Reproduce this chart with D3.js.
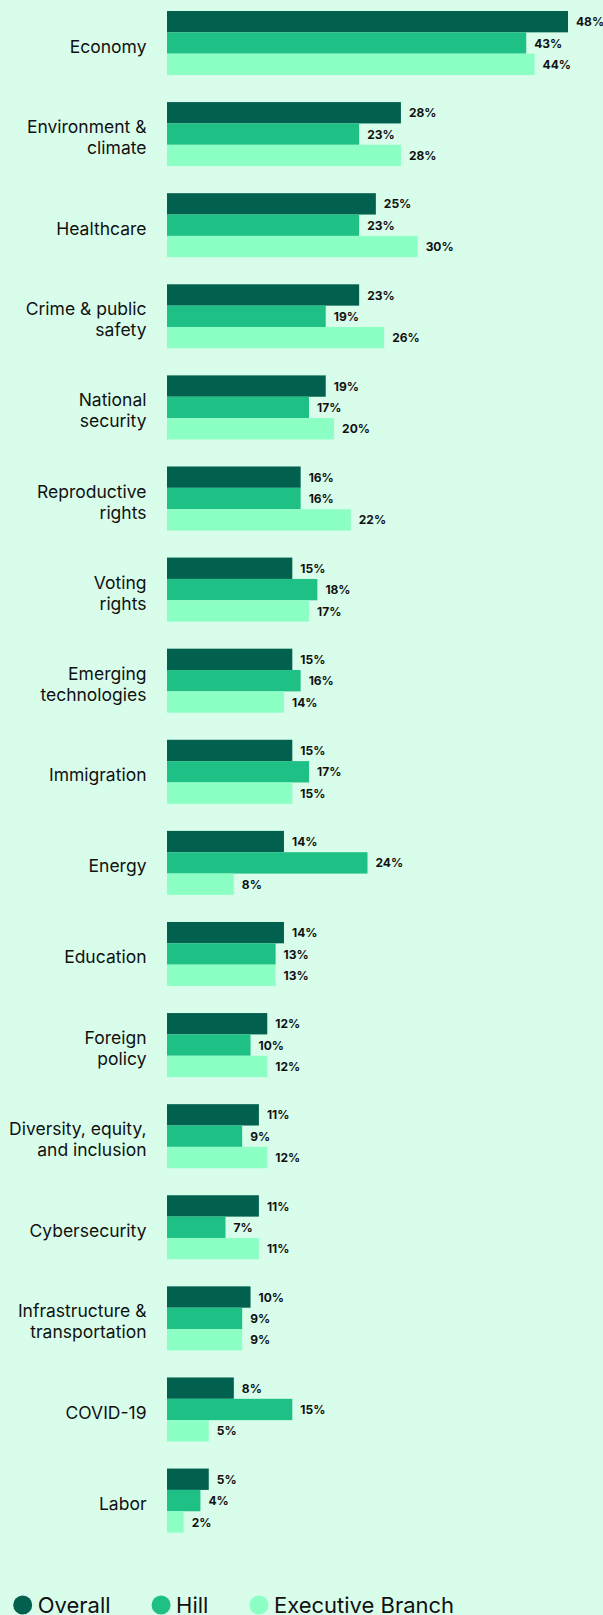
<!DOCTYPE html>
<html>
<head>
<meta charset="utf-8">
<script src="https://cdn.jsdelivr.net/npm/d3@7"></script>
<style>
  html, body { margin: 0; padding: 0; background: #d9fdeb; }
  svg { display: block; }
  .cat { font-family: Inter, "Noto Sans", sans-serif; font-size: 17.5px; fill: #111; }
  .val { font-family: Inter, "Noto Sans", sans-serif; font-size: 12px; font-weight: 700; fill: #111; }
  .leg { font-family: Inter, "Noto Sans", sans-serif; font-size: 22px; fill: #111; }
</style>
</head>
<body>
<svg id="chart" width="603" height="1615"></svg>
<script>
const categories = [
  "Economy", "Environment & climate", "Healthcare", "Crime & public safety",
  "National security", "Reproductive rights", "Voting rights", "Emerging technologies",
  "Immigration", "Energy", "Education", "Foreign policy",
  "Diversity, equity, and inclusion", "Cybersecurity", "Infrastructure & transportation",
  "COVID-19", "Labor"
];
const labelLines = [
  ["Economy"], ["Environment &", "climate"], ["Healthcare"], ["Crime & public", "safety"],
  ["National", "security"], ["Reproductive", "rights"], ["Voting", "rights"], ["Emerging", "technologies"],
  ["Immigration"], ["Energy"], ["Education"], ["Foreign", "policy"],
  ["Diversity, equity,", "and inclusion"], ["Cybersecurity"], ["Infrastructure &", "transportation"],
  ["COVID-19"], ["Labor"]
];
const seriesNames = ["Overall", "Hill", "Executive Branch"];
const overall   = [48, 28, 25, 23, 19, 16, 15, 15, 15, 14, 14, 12, 11, 11, 10, 8, 5];
const hill      = [43, 23, 23, 19, 17, 16, 18, 16, 17, 24, 13, 10, 9, 7, 9, 15, 4];
const executive = [44, 28, 30, 26, 20, 22, 17, 14, 15, 8, 13, 12, 12, 11, 9, 5, 2];
const colors = ["#02604e", "#1ec085", "#8cffc4"];

const series = [overall, hill, executive];
const svg = d3.select("#chart");

const x = d3.scaleLinear().domain([0, 48]).range([167, 568]);
const y = d3.scaleBand().domain(categories).range([11, 1532.6]).paddingInner(0.297).paddingOuter(0);
const ySub = d3.scaleBand().domain(seriesNames).range([0, y.bandwidth()]).padding(0);
const color = d3.scaleOrdinal().domain(seriesNames).range(colors);

const rows = categories.map((c, i) => ({
  cat: c, lines: labelLines[i],
  vals: seriesNames.map((s, j) => ({ s, v: series[j][i] }))
}));

const g = svg.append("g");
const groups = g.selectAll("g.grp").data(rows).join("g")
  .attr("class", "grp")
  .attr("transform", d => `translate(0,${y(d.cat)})`);

groups.selectAll("rect").data(d => d.vals).join("rect")
  .attr("x", x(0))
  .attr("y", d => ySub(d.s))
  .attr("width", d => x(d.v) - x(0))
  .attr("height", ySub.bandwidth())
  .attr("fill", d => color(d.s));

groups.selectAll("text.val").data(d => d.vals).join("text")
  .attr("class", "val")
  .attr("x", d => x(d.v) + 8)
  .attr("y", d => ySub(d.s) + ySub.bandwidth() / 2 + 4.6)
  .text(d => d.v + "%");

const lh = 21;
groups.append("text")
  .attr("class", "cat")
  .attr("text-anchor", "end")
  .each(function(d) {
    const t = d3.select(this);
    const n = d.lines.length;
    const c = y.bandwidth() / 2;
    d.lines.forEach((ln, k) => {
      t.append("tspan")
        .attr("x", 146.5)
        .attr("y", c - (n - 1) * lh / 2 + k * lh + 9.5)
        .text(ln);
    });
  });

// legend
const leg = svg.append("g");
let cx = 13.2;
const cy = 1605, r = 9.5;
seriesNames.forEach((s) => {
  leg.append("circle").attr("cx", cx + r).attr("cy", cy).attr("r", r).attr("fill", color(s));
  const t = leg.append("text").attr("class", "leg").attr("x", cx + 2 * r + 5.5).attr("y", cy + 7.5).text(s);
  const w = t.node().getComputedTextLength();
  cx = cx + 2 * r + 5.5 + w + 41;
});
</script>
</body>
</html>
